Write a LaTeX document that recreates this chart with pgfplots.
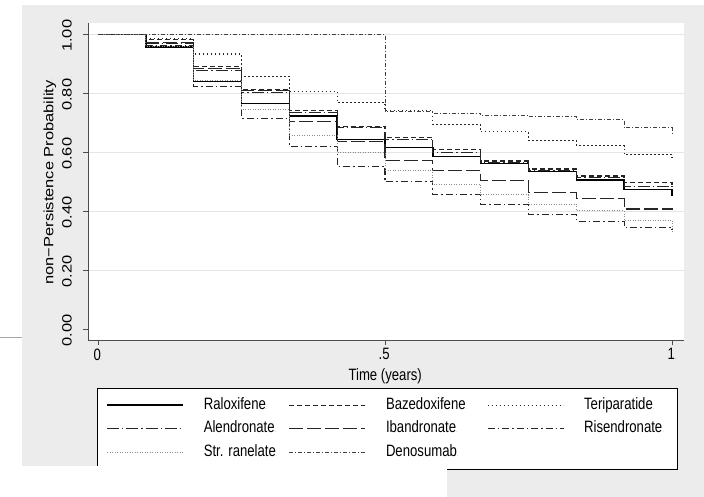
\documentclass[border=0pt]{standalone}
\usepackage{fontspec}
\setmainfont{Liberation Sans}
\usepackage{graphicx}
\usepackage{pgfplots}
\pgfplotsset{compat=1.18}
\definecolor{bggray}{gray}{0.925}
\newcommand{\dt}{{\color{black!30}\scriptsize.}}
\newcommand{\fs}{\fontsize{16.5}{19}\selectfont}
\newcommand{\hs}[1]{\scalebox{0.8}[1]{#1}}
\newcommand{\vs}[1]{\scalebox{1}[0.82]{#1}}
\begin{document}
\begin{tikzpicture}
\useasboundingbox (0bp,0bp) rectangle (704bp,-497bp);
\fill[white] (0bp,0bp) rectangle (704bp,-497bp);
\fill[bggray] (22bp,-5bp) rectangle (704bp,-497bp);
\draw[black!35, line width=0.8bp] (0bp,-337bp) -- (22bp,-337bp);
\begin{axis}[
  at={(88bp,-340bp)}, anchor=south west, scale only axis,
  width=596bp, height=317bp,
  xmin=-0.0174, xmax=1.0209, ymin=-0.035, ymax=1.040,
  axis background/.style={fill=white},
  axis x line*=bottom, axis y line*=left,
  axis line style={black!70, line width=0.9bp},
  tick align=outside, major tick length=5bp,
  tick style={black!70, line width=0.9bp},
  xtick={0,0.5,1}, xticklabels={\hs{0\dt},\hs{.5\dt},\hs{1\dt}},
  ytick={0.2,0.4,0.6,0.8,1.0},
  yticklabels={\vs{0.20\dt},\vs{0.40\dt},\vs{0.60\dt},\vs{0.80\dt},\vs{1.00\dt}},
  extra y ticks={0}, extra y tick labels={\vs{0.00\dt}},
  extra y tick style={grid=none},
  ymajorgrids, grid style={black!10, line width=0.9bp},
  /pgf/number format/assume math mode=true,
  every tick label/.append style={font=\fs, text=black},
  yticklabel style={xshift=-11bp, rotate=90, anchor=south, inner sep=0pt},
  xticklabel style={anchor=north},
  label style={font=\fs},
  xlabel={\hs{Time (years)\dt}},
  ylabel={\vs{non−Persistence Probability\dt}},
  xlabel style={at={(axis description cs:0.5,-0.1136)}, anchor=center},
  ylabel style={at={(axis description cs:-0.0638,0.5)}, anchor=center},
  const plot,
  legend columns=3,
  legend cell align=left,
  legend style={at={(axis description cs:0.0151,-0.1514)}, anchor=north west,
    draw=black, line width=0.8bp, fill=white, font=\fs,
    inner xsep=9bp, inner ysep=9bp,
    nodes={text height=12bp, text depth=3.5bp, inner sep=0pt},
    /tikz/every odd column/.style={column sep=20bp},
    row sep=8bp},
  legend image code/.code={\draw[#1] (0bp,0bp) -- (76bp,0bp);},
]
\addplot[black, line width=1.4bp] coordinates {(0,1) (0.0833,0.958) (0.1667,0.841) (0.25,0.767) (0.3333,0.725) (0.4167,0.645) (0.5,0.618) (0.5833,0.588) (0.6667,0.564) (0.75,0.536) (0.8333,0.508) (0.9167,0.475) (1,0.455)};
\addlegendentry{\makebox[85bp][l]{\hs{Raloxifene\dt}}}
\addplot[black!85, line width=1.1bp, dash pattern=on 5bp off 3bp] coordinates {(0,1) (0.0833,0.984) (0.1667,0.893) (0.25,0.815) (0.3333,0.744) (0.4167,0.690) (0.5,0.651) (0.5833,0.610) (0.6667,0.572) (0.75,0.545) (0.8333,0.521) (0.9167,0.498) (1,0.490)};
\addlegendentry{\makebox[101bp][l]{\hs{Bazedoxifene\dt}}}
\addplot[black!85, line width=1.1bp, dash pattern=on 1.5bp off 2.5bp] coordinates {(0,1) (0.0833,0.986) (0.1667,0.935) (0.25,0.859) (0.3333,0.809) (0.4167,0.771) (0.5,0.742) (0.5833,0.695) (0.6667,0.671) (0.75,0.641) (0.8333,0.624) (0.9167,0.594) (1,0.575)};
\addlegendentry{\makebox[84bp][l]{\hs{Teriparatide\dt}}}
\addplot[black!85, line width=1.1bp, dash pattern=on 12bp off 3bp on 1.2bp off 3bp] coordinates {(0,1) (0.0833,0.970) (0.1667,0.878) (0.25,0.805) (0.3333,0.738) (0.4167,0.685) (0.5,0.645) (0.5833,0.602) (0.6667,0.566) (0.75,0.540) (0.8333,0.515) (0.9167,0.487) (1,0.480)};
\addlegendentry{\makebox[85bp][l]{\hs{Alendronate\dt}}}
\addplot[black!85, line width=1.2bp, dash pattern=on 14bp off 4bp] coordinates {(0,1) (0.0833,0.975) (0.1667,0.886) (0.25,0.810) (0.3333,0.706) (0.4167,0.637) (0.5,0.574) (0.5833,0.540) (0.6667,0.505) (0.75,0.465) (0.8333,0.445) (0.9167,0.409) (1,0.405)};
\addlegendentry{\makebox[101bp][l]{\hs{Ibandronate\dt}}}
\addplot[black!85, line width=1.1bp, dash pattern=on 7bp off 3bp on 1.5bp off 3bp] coordinates {(0,1) (0.0833,0.965) (0.1667,0.824) (0.25,0.717) (0.3333,0.621) (0.4167,0.553) (0.5,0.502) (0.5833,0.459) (0.6667,0.425) (0.75,0.390) (0.8333,0.368) (0.9167,0.347) (1,0.340)};
\addlegendentry{\makebox[84bp][l]{\hs{Risendronate\dt}}}
\addplot[black!45, line width=1.0bp, dash pattern=on 1bp off 1.5bp] coordinates {(0,1) (0.0833,0.962) (0.1667,0.845) (0.25,0.745) (0.3333,0.657) (0.4167,0.600) (0.5,0.541) (0.5833,0.494) (0.6667,0.458) (0.75,0.426) (0.8333,0.403) (0.9167,0.371) (1,0.332)};
\addlegendentry{\makebox[85bp][l]{\hs{Str. ranelate\dt}}}
\addplot[black!75, line width=1.0bp, dash pattern=on 4bp off 2bp on 1bp off 2bp] coordinates {(0,1) (0.0833,1) (0.1667,1) (0.25,1) (0.3333,1) (0.4167,1) (0.5,0.739) (0.5833,0.734) (0.6667,0.727) (0.75,0.722) (0.8333,0.713) (0.9167,0.685) (1,0.660)};
\addlegendentry{\makebox[101bp][l]{\hs{Denosumab\dt}}}
\end{axis}
\fill[white] (0bp,-466bp) rectangle (447bp,-497bp);
\end{tikzpicture}
\end{document}
